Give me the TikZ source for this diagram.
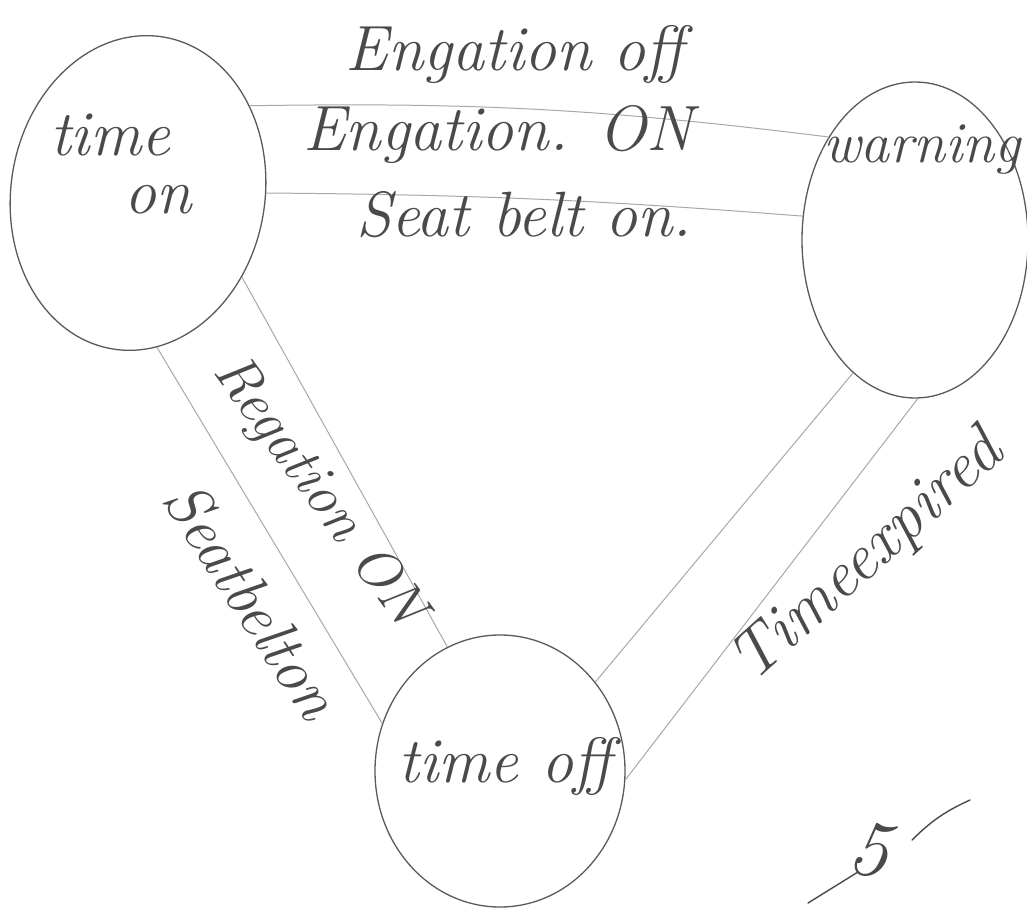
\documentclass[tikz,border=0pt]{standalone}
\usepackage{fontspec}
\usetikzlibrary{shapes.geometric}
\definecolor{ink}{HTML}{4A4A4A}
\definecolor{pen}{HTML}{5A5A5A}
\definecolor{faint}{HTML}{A8A8A8}
\tikzset{
  state/.style={draw=pen, line width=1.3pt, ellipse, inner sep=0pt},
  link/.style={draw=faint, line width=1pt},
  hand/.style={text=ink, font=\fontsize{64}{70}\selectfont\itshape\addfontfeatures{LetterSpace=8}, inner sep=0pt},
  handrot/.style={text=ink, inner sep=0pt}
}
\begin{document}
\begin{tikzpicture}[x=1pt,y=-1pt]
\useasboundingbox[fill=white] (0,0) rectangle (1027,909);
% states
\node[state, rotate=-9, minimum width=254pt, minimum height=316pt] (ton) at (138,193) {};
\node[state, minimum width=226pt, minimum height=316pt] (warn) at (915,240) {};
\node[state, minimum width=250pt, minimum height=272pt] (toff) at (500,771) {};
% state texts
\node[hand] (tontxt1) at (110,135) {time};
\node[hand] (tontxt2) at (158,200) {on};
\node[hand, font=\fontsize{58}{64}\selectfont\itshape\addfontfeatures{LetterSpace=4}] (warntxt) at (922,150) {warning};
\node[hand] (tofftxt) at (505,766) {time off};
% connectors
\draw[link] (ton.47) to[bend left=4] (warn.130);
\draw[link] (ton.9) to[bend left=2] (warn.168);
\draw[link] (ton.-74) -- (toff.158);
\draw[link] (ton.-30) -- (toff.113);
\draw[link] (toff.43) -- (warn.-115);
\draw[link] (toff.-4) -- (warn.-89);
% transition labels
\node[hand] (l1) at (515,55) {Engation off};
\node[hand] (l2) at (498,135) {Engation. ON};
\node[hand] (l3) at (524,215) {Seat belt on.};
\node[handrot, font=\fontsize{58}{64}\selectfont\itshape, rotate=-54] (l4) at (318,492) {Regation ON};
\node[handrot, font=\fontsize{63}{68}\selectfont\itshape, rotate=-57] (l5) at (252,600) {Seatbelton};
\node[handrot, font=\fontsize{66}{70}\selectfont\itshape, rotate=42] (l6) at (868,558) {Timeexpired};
% mark
\node[hand, font=\fontsize{80}{80}\selectfont\itshape, rotate=-10] (mark) at (870,850) {5};
\coordinate (m1) at (808,903);
\coordinate (m2) at (858,872);
\coordinate (m3) at (912,840);
\coordinate (m4) at (970,800);
\draw[draw=ink, line width=1.4pt, line cap=round] (m1) -- (m2);
\draw[draw=ink, line width=1.4pt, line cap=round] (m3) to[bend left=10] (m4);
\end{tikzpicture}
\end{document}
